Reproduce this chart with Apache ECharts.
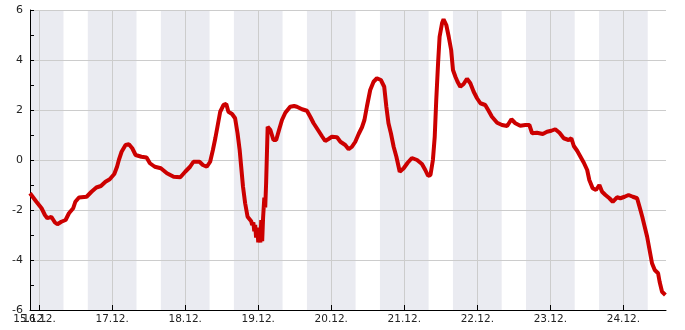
<!DOCTYPE html>
<html><head><meta charset="utf-8">
<script src="https://cdn.jsdelivr.net/npm/echarts@6/dist/echarts.min.js"></script>
<style>html,body{margin:0;padding:0;background:#fff}#c{width:685px;height:330px}</style>
</head><body><div id="c"></div>
<script>
// December of an arbitrary year
const YEAR = 2023, MONTH = 11;
const axisStart = { day: 15, hour: 21 };
const axisEnd = { day: 24, hour: 14 };
// night shading: starts 16:00 on these days, ends 08:00 next day
const nightDays = [15, 16, 17, 18, 19, 20, 21, 22, 23];
const NIGHT_FROM = 16, NIGHT_TO = 8;
const yTicks = [-6, -4, -2, 0, 2, 4, 6];

// hours since 16.12. 00:00
const hours = [
  -3, -0.9, 0.8, 1.9, 2.7, 4.0, 5.2, 6.0, 7.3, 8.7, 9.8, 11.2, 11.9, 13.1, 15.6, 17.2, 18.8, 20.3, 21.8, 23.2,
  24.7, 25.6, 26.2, 27.1, 28.4, 29.5, 30.6, 31.7, 33.6, 35.3, 36.4, 38.0, 40.0,
  42.0, 44.2, 46.4, 48.0, 49.6, 50.7, 52.7, 53.8, 55.1, 56.2, 57.1, 57.9, 58.6, 59.5, 60.6, 61.5, 62.2, 63.4,
  64.4, 65.2, 65.9, 66.4, 67.0, 67.7, 68.5, 69.7, 70.0, 70.4, 70.7, 71.0, 71.3, 71.7, 72.0, 72.3, 72.7, 73.0,
  73.3, 73.6, 74.0, 74.3, 74.6, 75.1, 76.0,
  77.0, 77.9, 79.0, 79.8, 80.9, 82.5, 83.8,
  84.7, 86.4, 88.0, 89.1, 90.2, 91.8, 92.9, 94.0, 95.1, 96.2, 97.9, 99.0, 100.6, 101.7, 102.8, 103.9, 105.0,
  106.1, 106.9, 107.7, 108.8, 109.9, 111.0, 112.3, 113.4, 114.1, 114.8, 115.6, 116.5, 117.4, 118.5, 119.8,
  121.1, 122.5, 124.2, 125.8, 126.9, 127.8, 128.6, 129.4, 130.0, 130.5, 131.1, 131.6, 132.4, 132.9, 133.8,
  134.6, 135.4, 136.0, 136.8, 137.5, 138.4, 139.5, 140.6,
  141.7, 142.8, 143.9, 145.0, 146.6, 147.7, 148.8, 150.5, 152.1, 153.8, 155.2, 156.5, 158.1, 159.8, 161.1,
  162.0, 163.6, 165.5, 166.9, 168.3, 169.6, 171.0, 172.4, 174.0, 174.9, 175.7, 176.8, 177.9, 179.0, 180.1,
  180.8, 181.9, 183.0, 184.1, 185.0, 186.1, 187.4, 188.5, 189.9, 191.0, 192.4, 193.7, 195.1, 196.5, 197.3,
  198.2, 199.0, 199.8, 200.6, 201.4, 202.3, 203.4, 203.9, 204.7, 205.8
];
const values = [
  -1.33, -1.67, -1.93, -2.2, -2.33, -2.27, -2.5, -2.57, -2.47, -2.4, -2.13, -1.93, -1.67, -1.5, -1.47, -1.27, -1.1, -1.04, -0.87, -0.77,
  -0.56, -0.27, 0, 0.33, 0.6, 0.63, 0.47, 0.2, 0.13, 0.1, -0.13, -0.27, -0.33,
  -0.53, -0.67, -0.69, -0.47, -0.27, -0.07, -0.07, -0.2, -0.27, -0.07, 0.4, 0.87, 1.33, 1.93, 2.2, 2.24, 1.93, 1.84,
  1.67, 1.07, 0.4, -0.27, -1.07, -1.73, -2.27, -2.45, -2.6, -2.5, -2.85, -2.6, -3.1, -2.7, -3.3, -2.7, -3.3, -2.4,
  -3.25, -2.3, -1.5, -1.9, -0.9, 1.33, 1.2,
  0.8, 0.8, 1.27, 1.6, 1.89, 2.13, 2.16,
  2.13, 2.03, 1.97, 1.73, 1.47, 1.17, 0.96, 0.76, 0.84, 0.93, 0.91, 0.73, 0.6, 0.43, 0.53, 0.73, 1.04,
  1.31, 1.6, 2.13, 2.8, 3.13, 3.27, 3.2, 2.93, 2.13, 1.47, 1.07, 0.53, 0.13, -0.47, -0.33,
  -0.11, 0.08, 0, -0.16, -0.4, -0.63, -0.6, 0, 0.93, 2.4, 3.87, 4.93, 5.47, 5.63, 5.4,
  4.93, 4.4, 3.6, 3.33, 3.13, 2.93, 3.04, 3.25,
  3.07, 2.73, 2.47, 2.27, 2.2, 1.97, 1.73, 1.49, 1.4, 1.36, 1.63, 1.47, 1.37, 1.4, 1.4,
  1.07, 1.09, 1.04, 1.13, 1.17, 1.23, 1.09, 0.87, 0.8, 0.87, 0.56, 0.37, 0.13, -0.11, -0.4,
  -0.8, -1.13, -1.2, -1.0, -1.27, -1.4, -1.53, -1.67, -1.49, -1.53, -1.47, -1.4, -1.47, -1.53, -1.87,
  -2.27, -2.67, -3.07, -3.6, -4.13, -4.4, -4.53, -4.87, -5.27, -5.4
];

const HOUR = 3600000, DAY = 24 * HOUR;
const base = new Date(YEAR, MONTH, 16, 0, 0).getTime();
const xMin = new Date(YEAR, MONTH, axisStart.day, axisStart.hour).getTime();
const xMax = new Date(YEAR, MONTH, axisEnd.day, axisEnd.hour).getTime();
const points = hours.map((h, i) => [base + h * HOUR, values[i]]);
const bands = nightDays.map(d => [
  { xAxis: Math.max(xMin, new Date(YEAR, MONTH, d, NIGHT_FROM).getTime()) },
  { xAxis: new Date(YEAR, MONTH, d + 1, NIGHT_TO).getTime() }
]);
const pad = n => (n < 10 ? '0' : '') + n;
const fmtDay = v => { const d = new Date(v); return pad(d.getDate()) + '.' + pad(d.getMonth() + 1) + '.'; };
const labelFont = { color: '#222', fontSize: 10.5, fontFamily: 'DejaVu Sans', margin: 4 };

const chart = echarts.init(document.getElementById('c'), null, { renderer: 'canvas' });
chart.setOption({
  animation: false,
  backgroundColor: '#fff',
  grid: { left: 30, right: 19, top: 10, bottom: 20, containLabel: false, outerBoundsMode: 'none' },
  xAxis: [{
    type: 'time', position: 'bottom', min: xMin, max: xMax, minInterval: DAY, maxInterval: DAY,
    axisLine: { onZero: false, lineStyle: { color: '#000', width: 1 } },
    axisTick: { inside: true, length: 5, lineStyle: { color: '#000' } },
    axisLabel: Object.assign({ formatter: fmtDay, showMinLabel: false, showMaxLabel: false, hideOverlap: false }, labelFont),
    splitLine: { show: true, showMinLine: false, showMaxLine: false, lineStyle: { color: '#ccc', width: 1 } }
  }, {
    type: 'time', position: 'bottom', offset: 0, min: xMin, max: xMax, minInterval: DAY, maxInterval: DAY,
    axisLine: { show: false, onZero: false },
    axisTick: { show: false },
    splitLine: { show: false },
    axisLabel: Object.assign({ formatter: v => (v === xMin ? fmtDay(v) : ''), showMinLabel: true, showMaxLabel: false, hideOverlap: false }, labelFont)
  }],
  yAxis: {
    type: 'value', min: yTicks[0], max: yTicks[yTicks.length - 1], interval: 2,
    axisLine: { show: true, onZero: false, lineStyle: { color: '#000', width: 1 } },
    axisTick: { show: true, inside: true, length: 4, lineStyle: { color: '#000' } },
    minorTick: { show: true, splitNumber: 2, length: 4, lineStyle: { color: '#000' } },
    axisLabel: { color: '#222', fontSize: 11, fontFamily: 'DejaVu Sans', margin: 7 },
    splitLine: { show: true, lineStyle: { color: '#ccc', width: 1 } }
  },
  series: [
    {
      type: 'line', data: points, silent: true, showSymbol: false, z: -3,
      lineStyle: { opacity: 0 },
      markLine: {
        silent: true, symbol: 'none', z: -3, label: { show: false },
        lineStyle: { color: '#000', width: 1, type: 'solid' },
        emphasis: { disabled: true },
        data: [{ yAxis: 0 }]
      }
    },
    {
      type: 'line', data: [], silent: true, z: -2,
      markArea: {
        silent: true, z: -2,
        itemStyle: { color: 'rgba(224,226,234,0.68)' },
        data: bands
      }
    },
    {
      type: 'line', data: points, showSymbol: false, z: 3,
      lineStyle: { color: '#cc0000', width: 4 },
      itemStyle: { color: '#cc0000' }
    }
  ]
});
</script>
</body></html>
